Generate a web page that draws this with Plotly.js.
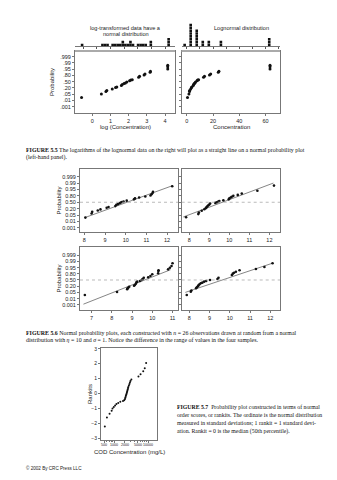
<!DOCTYPE html>
<html><head><meta charset="utf-8">
<script src="https://cdn.plot.ly/plotly-3.0.1.min.js"></script>
<style>html,body{margin:0;padding:0;background:#fff}#p{width:337px;height:480px}</style>
</head><body><div id="p"></div>
<script>
// ---------- DATA ----------
// Figure 5.5 (log-transformed vs lognormal)
const logConc = [-0.59,0.5,0.75,0.8,1.1,1.28,1.35,1.6,1.65,1.75,1.82,1.9,2.05,2.12,2.2,2.55,2.6,2.85,2.9,3.18,3.2,4.15,4.15,4.15];
const conc    = [0.55,1.65,2.1,2.2,3.0,3.6,3.9,4.95,5.2,5.75,6.2,6.7,7.8,8.3,9.0,12.8,13.5,17.3,18.2,24.0,24.5,63.4,63.4,63.4];
const prob55  = [-2.51,-1.97,-1.55,-1.39,-1.17,-0.91,-0.85,-0.59,-0.43,-0.27,-0.21,-0.05,0.16,0.27,0.32,0.69,0.85,1.07,1.23,1.49,1.65,2.03,2.4,2.61];
const probTicks = [4,3,2,1,0,-1,-2,-3,-4];
const probLabels55 = ['.999','.99','.95','.80','.50','.20','.05','.01','.001'];
const probLabels56 = ['0.999','0.99','0.95','0.80','0.50','0.20','0.05','0.01','0.001'];
// Figure 5.6 (four normal samples)
const tlX = [8.05,8.35,8.38,8.65,8.78,9.08,9.17,9.5,9.55,9.62,9.7,9.76,9.82,9.9,10.05,10.4,10.45,10.65,10.95,11.2,11.25,11.3,11.32,12.25];
const tlY = [-2.4,-1.75,-1.5,-1.3,-1.12,-0.85,-0.75,-0.6,-0.4,-0.3,-0.15,-0.05,0.05,0.12,0.25,0.45,0.6,0.75,0.9,1.05,1.25,1.45,1.65,2.5];
const tlFitX = [8.03,12.27], tlFitY = [-2.4,2.6];
const trX = [7.84,8.45,8.48,8.62,8.75,8.82,8.86,8.9,8.95,9.0,9.04,9.3,9.38,9.45,9.5,9.7,9.97,10.0,10.07,10.12,10.2,10.42,10.62,11.4,12.23];
const trY = [-2.35,-1.85,-1.62,-1.32,-1.1,-0.92,-0.78,-0.62,-0.48,-0.35,-0.2,-0.1,0.0,0.1,0.2,0.3,0.45,0.6,0.75,0.85,1.0,1.15,1.35,1.8,2.6];
const trFitX = [7.7,12.2], trFitY = [-2.3,3.0];
const blX = [6.67,8.26,8.76,8.78,8.81,8.86,9.1,9.14,9.19,9.22,9.25,9.39,9.47,9.52,9.58,9.8,9.91,10.0,10.29,10.3,10.31,10.78,10.87,10.95,11.0];
const blY = [-2.42,-1.94,-1.5,-1.34,-1.24,-1.08,-0.92,-0.8,-0.6,-0.37,-0.27,-0.16,0.0,0.16,0.37,0.44,0.65,0.92,1.08,1.45,1.56,1.72,1.98,2.26,2.7];
const blFitX = [6.6,10.9], blFitY = [-3.9,1.65];
const brX = [7.87,8.07,8.1,8.33,8.37,8.42,8.45,8.5,8.56,8.64,8.73,8.83,9.02,9.39,9.44,10.1,10.15,10.21,10.3,10.48,11.29,11.71,12.11];
const brY = [-2.42,-1.88,-1.71,-1.34,-1.18,-1.02,-0.85,-0.69,-0.53,-0.43,-0.27,-0.16,0.0,0.16,0.37,0.8,1.02,1.18,1.34,1.56,1.77,2.1,2.69];
const brFitX = [7.8,12.1], brFitY = [-2.0,2.7];
// Figure 5.7 (rankits vs COD)
const cod    = [520,600,720,830,880,960,1050,1150,1300,1500,1800,1950,2050,2100,2150,2200,2250,2300,2350,2400,2450,2500,2550,2600,2700,2800,2900,3000,3200,5200,6000,7200,8000,8800];
const rankit = [-2.2,-1.6,-1.35,-1.15,-1.0,-0.9,-0.8,-0.7,-0.62,-0.55,-0.5,-0.45,-0.38,-0.3,-0.22,-0.15,-0.07,0.0,0.08,0.15,0.22,0.3,0.38,0.45,0.55,0.65,0.75,0.85,0.95,1.15,1.3,1.5,1.7,2.05];
const codTicks = [500,1000,2000,5000,10000];
const codMinor = [600,700,800,900,3000,4000,6000,7000,8000,9000];

// ---------- LAYOUT HELPERS ----------
const W=337,H=480;
const px=(a,b)=>[a/W,b/W];
const py=(t,b)=>[1-b/H,1-t/H];
const SANS='Liberation Sans, Arial, sans-serif';
const SERIF='Liberation Serif, Times New Roman, serif';
function ann(text,x,y,o={}){return Object.assign({text:text,x:x/W,y:1-y/H,xref:'paper',yref:'paper',showarrow:false,xanchor:'center',yanchor:'middle',font:{family:SANS,size:6,color:'#222'},borderpad:0},o);}

// dotplot stacking computed from data
function dots(vals,w,origin){const c={},xs=[],ys=[];vals.forEach(v=>{const b=Math.round((v-origin)/w);c[b]=(c[b]||0)+1;xs.push(origin+b*w);ys.push(c[b]-0.45);});return {xs,ys};}
const dL = dots(logConc,0.14,0);
const dR = dots(conc,4.6,3.0);

const tickF={family:SANS,size:5.5,color:'#222'};
function box(o){return Object.assign({showline:true,mirror:true,linecolor:'#777',linewidth:1,ticks:'outside',ticklen:2,tickwidth:0.8,tickcolor:'#555',zeroline:false,showgrid:false,tickfont:tickF,tickangle:0,fixedrange:true},o);}
const mk = s=>({color:'#111',size:s,line:{width:0}});

const traces=[
 {x:logConc,y:prob55,xaxis:'x',yaxis:'y',mode:'markers',type:'scatter',marker:mk(3)},
 {x:conc,y:prob55,xaxis:'x2',yaxis:'y2',mode:'markers',type:'scatter',marker:mk(3)},
 {x:dL.xs,y:dL.ys,xaxis:'x3',yaxis:'y3',mode:'markers',type:'scatter',marker:Object.assign(mk(2.6),{symbol:'square'})},
 {x:dR.xs,y:dR.ys,xaxis:'x4',yaxis:'y4',mode:'markers',type:'scatter',marker:Object.assign(mk(2.6),{symbol:'square'})},
 {x:tlFitX,y:tlFitY,xaxis:'x5',yaxis:'y5',mode:'lines',type:'scatter',line:{color:'#666',width:0.8}},
 {x:tlX,y:tlY,xaxis:'x5',yaxis:'y5',mode:'markers',type:'scatter',marker:mk(2.6)},
 {x:trFitX,y:trFitY,xaxis:'x6',yaxis:'y6',mode:'lines',type:'scatter',line:{color:'#666',width:0.8}},
 {x:trX,y:trY,xaxis:'x6',yaxis:'y6',mode:'markers',type:'scatter',marker:mk(2.6)},
 {x:blFitX,y:blFitY,xaxis:'x7',yaxis:'y7',mode:'lines',type:'scatter',line:{color:'#666',width:0.8}},
 {x:blX,y:blY,xaxis:'x7',yaxis:'y7',mode:'markers',type:'scatter',marker:mk(2.6)},
 {x:brFitX,y:brFitY,xaxis:'x8',yaxis:'y8',mode:'lines',type:'scatter',line:{color:'#666',width:0.8}},
 {x:brX,y:brY,xaxis:'x8',yaxis:'y8',mode:'markers',type:'scatter',marker:mk(2.6)},
 {x:cod,y:rankit,xaxis:'x9',yaxis:'y9',mode:'markers',type:'scatter',marker:mk(2)}
];

const yP55={tickvals:probTicks,ticktext:probLabels55,range:[-5,4.9]};
const capF={family:SERIF,size:5.9,color:'#111'};
const cap7F={family:SERIF,size:5.8,color:'#111'};
// COD tick labels placed through the log axis (annotation x on a log axis is log10 of the value)
const codTickAnns = codTicks.map(v=>({text:String(v),x:Math.log10(v),xref:'x9',y:1-444.5/H,yref:'paper',showarrow:false,xanchor:'center',yanchor:'middle',font:{family:SANS,size:3.6,color:'#222'},borderpad:0}));
const layout={
 width:W,height:H,margin:{l:0,r:0,t:0,b:0},showlegend:false,paper_bgcolor:'#fff',plot_bgcolor:'rgba(0,0,0,0)',
 xaxis: box({domain:px(75,175),anchor:'y',range:[-0.95,4.55],tickvals:[0,1,2,3,4]}),
 yaxis: box(Object.assign({domain:py(51,113),anchor:'x'},yP55)),
 xaxis2:box({domain:px(181.5,280),anchor:'y2',range:[-4,71],tickvals:[0,20,40,60]}),
 yaxis2:box(Object.assign({domain:py(51,113),anchor:'x2',showticklabels:false},yP55)),
 xaxis3:{domain:px(75,175),anchor:'y3',range:[-0.95,4.55],showline:true,linecolor:'#555',linewidth:0.8,ticks:'outside',ticklen:1.5,tickcolor:'#555',tickvals:[-0.5,0.25,1,1.75,2.5,3.25,4],showticklabels:false,showgrid:false,zeroline:false},
 yaxis3:{domain:py(20,46.5),anchor:'x3',range:[0,9.3],visible:false},
 xaxis4:{domain:px(181.5,280),anchor:'y4',range:[-4,71],showline:true,linecolor:'#555',linewidth:0.8,ticks:'outside',ticklen:1.5,tickcolor:'#555',tickvals:[0,10,20,30,40,50,60,70],showticklabels:false,showgrid:false,zeroline:false},
 yaxis4:{domain:py(20,46.5),anchor:'x4',range:[0,9.3],visible:false},
 xaxis5:box({domain:px(80,178),anchor:'y5',range:[7.79,12.53],tickvals:[8,9,10,11,12]}),
 yaxis5:box({domain:py(169,232.3),anchor:'x5',range:[-4.7,5.2],tickvals:probTicks,ticktext:probLabels56}),
 xaxis6:box({domain:px(181.7,280),anchor:'y6',range:[7.62,12.53],tickvals:[8,9,10,11,12]}),
 yaxis6:box({domain:py(169,232.3),anchor:'x6',range:[-4.7,5.2],tickvals:probTicks,showticklabels:false}),
 xaxis7:box({domain:px(80,178),anchor:'y7',range:[6.43,11.27],tickvals:[7,8,9,10,11]}),
 yaxis7:box({domain:py(246.7,310),anchor:'x7',range:[-4.84,5.37],tickvals:probTicks,ticktext:probLabels56}),
 xaxis8:box({domain:px(181.7,280),anchor:'y8',range:[7.62,12.48],tickvals:[8,9,10,11,12]}),
 yaxis8:box({domain:py(246.7,310),anchor:'x8',range:[-4.84,5.37],tickvals:probTicks,showticklabels:false}),
 xaxis9:box({domain:px(101,157),anchor:'y9',type:'log',range:[Math.log10(400),Math.log10(18500)],tickvals:codTicks,showticklabels:false,minor:{tickvals:codMinor,ticks:'outside',ticklen:1.2,tickcolor:'#555'}}),
 yaxis9:box({domain:py(348,440),anchor:'x9',range:[-3.1,3.05],tickvals:[-3,-2,-1,0,1,2,3],tickfont:{family:SANS,size:5,color:'#222'}}),
 shapes:[
  {type:'line',xref:'x domain',yref:'paper',x0:0,x1:1,y0:1-51/H,y1:1-51/H,line:{color:'#aaa',width:2}},
  {type:'line',xref:'x2 domain',yref:'paper',x0:0,x1:1,y0:1-51/H,y1:1-51/H,line:{color:'#aaa',width:2}},
  ...['5','6','7','8'].map(n=>({type:'line',xref:'x'+n+' domain',yref:'y'+n,x0:0,x1:1,y0:0,y1:0,line:{color:'#aaa',width:0.8,dash:'dot'}}))
 ],
 annotations:[
  ann('log-transformed data have a',126,28.5,{font:{family:SANS,size:5.6,color:'#222'}}),
  ann('normal distribution',126,34,{font:{family:SANS,size:5.6,color:'#222'}}),
  ann('Lognormal distribution',241.7,28.5,{font:{family:SANS,size:5.6,color:'#222'}}),
  ann('Probability',52,82,{textangle:-90,font:{family:SANS,size:6,color:'#222'}}),
  ann('log (Concentration)',125,126.5,{font:{family:SANS,size:6,color:'#222'}}),
  ann('Concentration',231,126.5,{font:{family:SANS,size:6,color:'#222'}}),
  ann('<b>FIGURE 5.5</b> The logarithms of the lognormal data on the right will plot as a straight line on a normal probability plot',25,150,{xanchor:'left',font:capF}),
  ann('(left-hand panel).',25,157,{xanchor:'left',font:capF}),
  ann('Probability',58,200.5,{textangle:-90,font:{family:SANS,size:6,color:'#222'}}),
  ann('Probability',58,278.5,{textangle:-90,font:{family:SANS,size:6,color:'#222'}}),
  ann('<b>FIGURE 5.6</b> Normal probability plots, each constructed with <i>n</i> = 26 observations drawn at random from a normal',25,332.7,{xanchor:'left',font:capF}),
  ann('distribution with <i>η</i> = 10 and <i>σ</i> = 1. Notice the difference in the range of values in the four samples.',25,339.8,{xanchor:'left',font:capF}),
  ann('Rankits',90,394,{textangle:-90,font:{family:SANS,size:6,color:'#222'}}),
  ann('COD Concentration (mg/L)',129.5,452,{font:{family:SANS,size:6,color:'#222'}}),
  ann('<b>FIGURE 5.7</b>  Probability plot constructed in terms of normal',176,407,{xanchor:'left',font:cap7F}),
  ann('order scores, or rankits. The ordinate is the normal distribution',176,415,{xanchor:'left',font:cap7F}),
  ann('measured in standard deviations; 1 rankit = 1 standard devi-',176,423,{xanchor:'left',font:cap7F}),
  ann('ation. Rankit = 0 is the median (50th percentile).',176,431,{xanchor:'left',font:cap7F}),
  ann('© 2002 By CRC Press LLC',25,468,{xanchor:'left',font:{family:SANS,size:4.6,color:'#222'}}),
  ...codTickAnns
 ]
};
Plotly.newPlot('p',traces,layout,{staticPlot:true,displayModeBar:false});
</script></body></html>
